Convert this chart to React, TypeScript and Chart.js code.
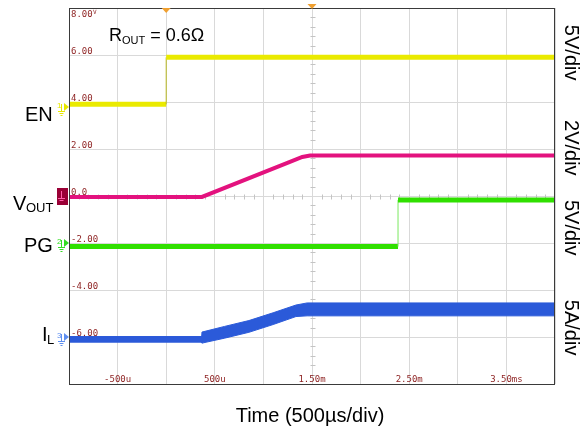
import { useEffect, useRef } from 'react';
import { Chart, registerables } from 'chart.js';

Chart.register(...registerables);

// ---- data (time in µs, levels in screen-division units: 2 units per division) ----
const enTime = [-1000, 0, 0, 4000];
const enLevel = [3.9, 3.9, 5.9, 5.9];

const voutTime = [-1000, 368, 1260, 1400, 1480, 4000];
const voutLevel = [-0.04, -0.04, 1.43, 1.66, 1.72, 1.72];

const pgTime = [-1000, 2385, 2385, 4000];
const pgLevel = [-2.15, -2.15, -0.17, -0.17];

const ilTime = [-1000, 360, 368, 600, 851, 1100, 1335, 1450, 4000];
const ilUpper = [-5.98, -5.98, -5.79, -5.55, -5.3, -4.97, -4.64, -4.55, -4.55];
const ilLower = [-6.22, -6.22, -6.26, -6.05, -5.8, -5.47, -5.13, -5.1, -5.1];

const xTickValues = [-500, 500, 1500, 2500, 3500];
const xTickLabels = ['-500u', '500u', '1.50m', '2.50m', '3.50ms'];
const yTickValues = [8, 6, 4, 2, 0, -2, -4, -6];
const yTickLabels = ['8.00', '6.00', '4.00', '2.00', '0.0', '-2.00', '-4.00', '-6.00'];

const triggerTimes = [0, 1500];

const scaleLabels = ['5V/div', '2V/div', '5V/div', '5A/div'];
const scaleLabelLevels = [6.1, 2.05, -1.35, -5.6];

const SANS = '"Liberation Sans", Arial, sans-serif';
const MONO = '"DejaVu Sans Mono", monospace';

const zip = (xs: number[], ys: number[]) => xs.map((x, i) => ({ x, y: ys[i] }));

const thinVertical = (w: number) => (ctx: any) =>
  ctx.p0.parsed.x === ctx.p1.parsed.x ? 1 : w;

const scopePlugin = {
  id: 'scope',
  beforeDatasetsDraw(chart: any) {
    const { ctx, chartArea: a, scales } = chart;
    const xs = scales.x;
    const ys = scales.y;
    ctx.save();
    // minor ticks on center cross
    ctx.strokeStyle = '#c4c4c4';
    ctx.lineWidth = 1;
    const cx = Math.round(xs.getPixelForValue(1500)) + 0.5;
    const cy = Math.round(ys.getPixelForValue(0)) + 0.5;
    const dx = (a.right - a.left) / 50;
    const dy = (a.bottom - a.top) / 40;
    ctx.beginPath();
    for (let i = 1; i < 50; i++) {
      if (i % 5 === 0) continue;
      const x = Math.round(a.left + i * dx) + 0.5;
      ctx.moveTo(x, cy - 2);
      ctx.lineTo(x, cy + 3);
    }
    for (let i = 1; i < 40; i++) {
      if (i % 5 === 0) continue;
      const y = Math.round(a.top + i * dy) + 0.5;
      ctx.moveTo(cx - 2, y);
      ctx.lineTo(cx + 3, y);
    }
    ctx.stroke();

    // tick labels inside the plot
    ctx.fillStyle = '#8c1f1f';
    ctx.font = `9px ${MONO}`;
    ctx.textBaseline = 'alphabetic';
    ctx.textAlign = 'left';
    yTickValues.forEach((v, i) => {
      const py = ys.getPixelForValue(v);
      const base = v === 8 ? a.top + 9 : py - 1;
      ctx.fillText(yTickLabels[i], a.left + 2, base);
      if (v === 8) {
        ctx.font = `6px ${MONO}`;
        ctx.fillText('V', a.left + 24, a.top + 6);
        ctx.font = `9px ${MONO}`;
      }
    });
    ctx.textAlign = 'center';
    xTickValues.forEach((v, i) => {
      ctx.fillText(xTickLabels[i], xs.getPixelForValue(v), a.bottom - 2);
    });
    ctx.restore();
  },
  afterDraw(chart: any) {
    const { ctx, chartArea: a, scales } = chart;
    const xs = scales.x;
    const ys = scales.y;
    ctx.save();
    // frame
    ctx.strokeStyle = '#3a3a3a';
    ctx.lineWidth = 1;
    ctx.strokeRect(a.left + 0.5, a.top + 0.5, a.right - a.left - 1, a.bottom - a.top);

    // trigger markers
    ctx.fillStyle = '#f0a030';
    triggerTimes.forEach((t, i) => {
      const x = xs.getPixelForValue(t);
      const top = i === 0 ? a.top : a.top - 4;
      ctx.beginPath();
      ctx.moveTo(x - 4.5, top);
      ctx.lineTo(x + 4.5, top);
      ctx.lineTo(x, top + 5);
      ctx.closePath();
      ctx.fill();
    });

    // channel markers
    const marker = (yv: number, color: string, num: string) => {
      const y = Math.round(ys.getPixelForValue(yv));
      const x0 = a.left - 12;
      ctx.strokeStyle = color;
      ctx.fillStyle = color;
      ctx.lineWidth = 1;
      ctx.font = `8px ${SANS}`;
      ctx.textAlign = 'left';
      ctx.fillText(num, x0, y + 1);
      ctx.beginPath();
      ctx.moveTo(x0 + 4.5, y - 3);
      ctx.lineTo(x0 + 4.5, y + 4);
      ctx.moveTo(x0 + 1, y + 4.5);
      ctx.lineTo(x0 + 8, y + 4.5);
      ctx.moveTo(x0 + 2.5, y + 6.5);
      ctx.lineTo(x0 + 6.5, y + 6.5);
      ctx.moveTo(x0 + 3.5, y + 8.5);
      ctx.lineTo(x0 + 5.5, y + 8.5);
      ctx.stroke();
      ctx.beginPath();
      ctx.moveTo(x0 + 7, y - 4);
      ctx.lineTo(x0 + 12, y);
      ctx.lineTo(x0 + 7, y + 4);
      ctx.closePath();
      ctx.fill();
    };
    marker(enLevel[0] - 0.1, '#e8e800', '1');
    marker(-2, '#33dd22', '2');
    marker(-6, '#5f8ff0', '3');
    // channel 4 (selected) box
    {
      const y = Math.round(ys.getPixelForValue(0));
      const x0 = a.left - 12;
      ctx.fillStyle = '#9a0036';
      ctx.fillRect(x0, y - 8, 11, 17);
      ctx.strokeStyle = '#ff5fa8';
      ctx.beginPath();
      ctx.moveTo(x0 + 4.5, y - 5);
      ctx.lineTo(x0 + 4.5, y + 2);
      ctx.moveTo(x0 + 1, y + 2.5);
      ctx.lineTo(x0 + 8, y + 2.5);
      ctx.moveTo(x0 + 2.5, y + 4.5);
      ctx.lineTo(x0 + 6.5, y + 4.5);
      ctx.stroke();
    }

    // channel names
    ctx.fillStyle = '#000';
    ctx.textAlign = 'left';
    ctx.textBaseline = 'alphabetic';
    ctx.font = `20px ${SANS}`;
    ctx.fillText('EN', 25, 121);
    ctx.fillText('PG', 24, 252);
    ctx.fillText('V', 13, 210);
    ctx.fillText('I', 42, 341);
    ctx.font = `13px ${SANS}`;
    ctx.fillText('OUT', 26, 212);
    ctx.fillText('L', 47, 344);

    // R_OUT annotation
    ctx.font = `18px ${SANS}`;
    ctx.fillText('R', 109, 41);
    let w = ctx.measureText('R').width;
    ctx.font = `11px ${SANS}`;
    ctx.fillText('OUT', 109 + w, 44);
    w += ctx.measureText('OUT').width;
    ctx.font = `18px ${SANS}`;
    ctx.fillText(' = 0.6\u03A9', 109 + w, 41);

    // right side scale labels (rotated)
    ctx.font = `20px ${SANS}`;
    ctx.textAlign = 'center';
    ctx.textBaseline = 'middle';
    scaleLabels.forEach((s, i) => {
      ctx.save();
      ctx.translate(571, ys.getPixelForValue(scaleLabelLevels[i]));
      ctx.rotate(Math.PI / 2);
      ctx.fillText(s, 0, 0);
      ctx.restore();
    });

    // bottom title
    ctx.textBaseline = 'alphabetic';
    ctx.font = `20px ${SANS}`;
    ctx.fillText('Time (500\u00B5s/div)', 310, 422);
    ctx.restore();
  },
};

export default function App() {
  const ref = useRef<HTMLCanvasElement | null>(null);
  useEffect(() => {
    if (!ref.current) return;
    const chart = new Chart(ref.current, {
      type: 'line',
      data: {
        datasets: [
          {
            label: 'EN',
            data: zip(enTime, enLevel),
            borderColor: '#eaea00',
            borderWidth: 5,
            segment: { borderWidth: thinVertical(5), borderColor: (c: any) => (c.p0.parsed.x === c.p1.parsed.x ? '#b8b820' : '#eaea00') },
            pointRadius: 0,
            fill: false,
          },
          {
            label: 'VOUT',
            data: zip(voutTime, voutLevel),
            borderColor: '#e3127e',
            borderWidth: 4,
            pointRadius: 0,
            fill: false,
          },
          {
            label: 'PG',
            data: zip(pgTime, pgLevel),
            borderColor: '#30e000',
            borderWidth: 5,
            segment: { borderWidth: thinVertical(5), borderColor: (c: any) => (c.p0.parsed.x === c.p1.parsed.x ? '#7ae860' : '#30e000') },
            pointRadius: 0,
            fill: false,
          },
          {
            label: 'IL upper',
            data: zip(ilTime, ilUpper),
            borderColor: '#2b5ad9',
            borderWidth: 1,
            pointRadius: 0,
            fill: false,
          },
          {
            label: 'IL lower',
            data: zip(ilTime, ilLower),
            borderColor: '#2b5ad9',
            backgroundColor: '#2b5ad9',
            borderWidth: 1,
            pointRadius: 0,
            fill: '-1',
          },
        ],
      },
      options: {
        responsive: false,
        devicePixelRatio: 1,
        animation: false,
        layout: { padding: { left: 69, right: 32, top: 8, bottom: 45 } },
        plugins: { legend: { display: false }, tooltip: { enabled: false }, title: { display: false } },
        elements: { line: { tension: 0 } },
        scales: {
          x: {
            type: 'linear',
            min: -1000,
            max: 4000,
            ticks: { display: false, stepSize: 500 },
            grid: { color: '#d9d9d9', drawTicks: false, tickLength: 0 },
            border: { display: false },
          },
          y: {
            type: 'linear',
            min: -8,
            max: 8,
            ticks: { display: false, stepSize: 2 },
            grid: { color: '#d9d9d9', drawTicks: false, tickLength: 0 },
            border: { display: false },
          },
        },
      },
      plugins: [scopePlugin],
    });
    return () => chart.destroy();
  }, []);
  return (
    <div style={{ position: 'absolute', left: 0, top: 0, width: 587, height: 429, background: '#fff' }}>
      <canvas ref={ref} width={587} height={429} style={{ display: 'block' }} />
    </div>
  );
}
